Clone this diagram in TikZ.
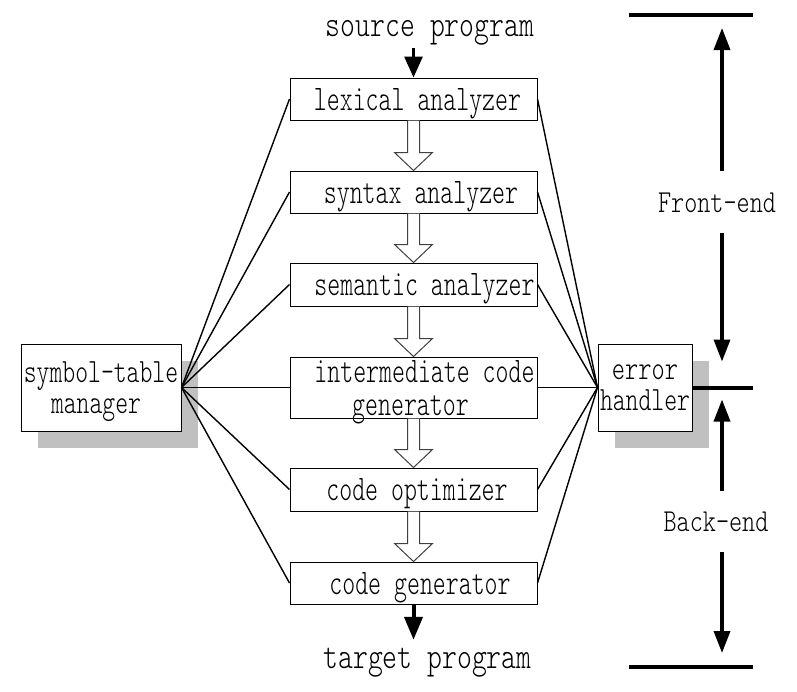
\documentclass[tikz,border=0pt]{standalone}
\usepackage{graphicx}
\usepackage{fontspec}
\newfontfamily\lmlight{Latin Modern Mono Light}
\usetikzlibrary{arrows.meta,calc,shadows}
\definecolor{shadowgray}{RGB}{192,192,192}
\newcommand\sqz[2]{\scalebox{#1}[1]{#2}}
\newcommand\hollowarrow[2]{%
  \draw[hollowarr] ($(#1.south)+(-6,0)$) -- ($(#2.north)+(-6,-18)$) -- ($(#2.north)+(-19,-18)$)
    -- (#2.north) -- ($(#2.north)+(19,-18)$) -- ($(#2.north)+(6,-18)$) -- ($(#1.south)+(6,0)$);}
\begin{document}
\begin{tikzpicture}[x=1pt,y=-1pt,
  stage/.style={draw, line width=1pt, fill=white, minimum width=247pt, inner sep=0pt,
    text depth=0pt, font=\lmlight\fontsize{36}{31}\selectfont, align=center},
  sidebox/.style={draw, line width=1pt, fill=white, inner sep=0pt, text depth=0pt,
    font=\lmlight\fontsize{34}{31}\selectfont, align=center,
    drop shadow={shadow xshift=17pt, shadow yshift=-17pt, fill=shadowgray, opacity=1}},
  conn/.style={line width=1.4pt},
  hollowarr/.style={draw=black!75, line width=1pt, fill=white, line join=miter},
  iolabel/.style={font=\lmlight\fontsize{37}{40}\selectfont, inner sep=0pt, anchor=base},
  partlabel/.style={font=\lmlight\fontsize{32}{36}\selectfont, inner xsep=0pt, inner ysep=21pt,
    text depth=0pt, anchor=base},
  bar/.style={line width=4pt},
  vArr/.style={line width=3.5pt, -{Triangle[length=22pt,width=16pt]}}]
\useasboundingbox (0,0) rectangle (797,691);

% pipeline stages
\node[stage, minimum height=42pt] (lex) at (413.5,99) {\hspace*{8pt}\sqz{0.685}{lexical analyzer}};
\node[stage, minimum height=42pt] (syn) at (413.5,192) {\hspace*{15pt}\sqz{0.685}{syntax analyzer}};
\node[stage, minimum height=43pt] (sem) at (413.5,284.5) {\hspace*{22pt}\sqz{0.685}{semantic analyzer}};
\node[stage, minimum height=61pt, font=\lmlight\fontsize{36}{33}\selectfont] (int) at (413.5,387.5) {\hspace*{22pt}\sqz{0.685}{intermediate code}\\\hspace*{-6pt}\sqz{0.685}{generator}};
\node[stage, minimum height=43pt] (opt) at (413.5,489.5) {\hspace*{7pt}\sqz{0.685}{code optimizer}};
\node[stage, minimum height=42pt] (gen) at (413.5,583) {\hspace*{13pt}\sqz{0.685}{code generator}};

% side boxes
\node[sidebox, minimum width=160pt, minimum height=87pt] (sym) at (101,387.5) {\sqz{0.72}{symbol-table}\\\hspace*{-10pt}\sqz{0.72}{manager}};
\node[sidebox, minimum width=94pt, minimum height=87pt] (err) at (645,387.5) {\sqz{0.74}{error}\\\sqz{0.72}{handler}};

% connectors
\foreach \b in {lex,syn,sem,int,opt,gen} {
  \draw[conn] (sym.east) -- (\b.west);
  \draw[conn] (\b.east) -- (err.west);
}

% hollow arrows
\hollowarrow{lex}{syn}
\hollowarrow{syn}{sem}
\hollowarrow{sem}{int}
\hollowarrow{int}{opt}
\hollowarrow{opt}{gen}

% input / output
\node[iolabel] (src) at (430,36) {\sqz{0.765}{source program}};
\node[iolabel, text height=22pt] (tgt) at (427.5,668) {\sqz{0.765}{target program}};
\draw[line width=3pt, -{Triangle[length=21pt,width=18pt]}, shorten <=3pt] (lex.north |- src.south) -- (lex.north);
\draw[line width=4pt, -{Triangle[length=23pt,width=18pt]}, shorten >=6pt] (gen.south) -- (gen.south |- tgt.north);

% front-end / back-end
\coordinate (tl) at (629,15);
\coordinate (tr) at (753,15);
\coordinate (mr) at (753,387.5);
\coordinate (bl) at (629,667);
\coordinate (br) at (753,667);
\coordinate (axT) at (722,15);
\coordinate (axM) at (722,387.5);
\coordinate (axB) at (722,667);
\draw[bar] (tl) -- (tr);
\draw[bar] (err.east) -- (mr);
\draw[bar] (bl) -- (br);

\node[partlabel, text height=20pt] (fe) at (717,212) {\sqz{0.78}{Front-end}};
\node[partlabel, text height=19pt] (be) at (716,531) {\sqz{0.78}{Back-end}};
\draw[vArr] (fe.north -| axT) -- ($(axT)+(0,13)$);
\draw[vArr] (fe.south -| axT) -- ($(axM)+(0,-26)$);
\draw[vArr] (be.north -| axT) -- ($(axM)+(0,12)$);
\draw[vArr] (be.south -| axT) -- ($(axB)+(0,-14)$);
\end{tikzpicture}
\end{document}
